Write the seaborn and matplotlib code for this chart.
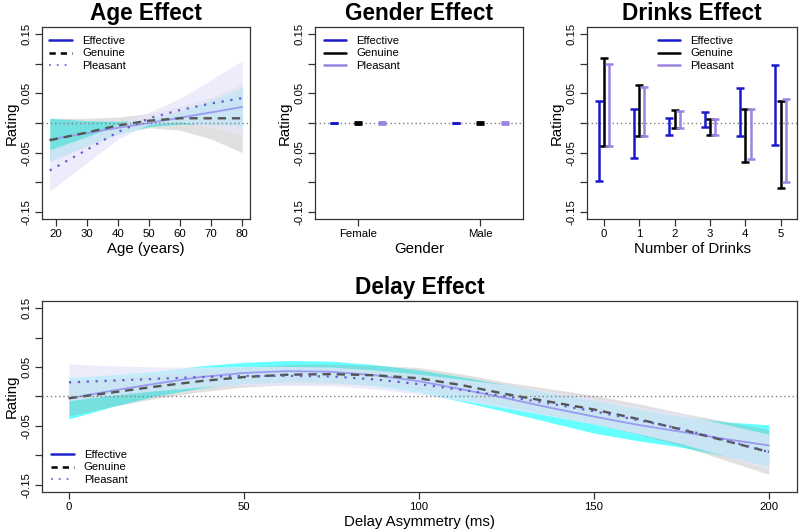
import numpy as np
import pandas as pd
import seaborn as sns
import matplotlib.pyplot as plt
from matplotlib.lines import Line2D

sns.set_style("ticks")
plt.rcParams['font.family'] = ['Liberation Sans', 'DejaVu Sans']
plt.rcParams['text.color'] = 'black'
plt.rcParams['axes.labelcolor'] = 'black'
plt.rcParams['xtick.labelcolor'] = 'black'
plt.rcParams['ytick.labelcolor'] = 'black'

# ---- datos ----
series = ['Effective', 'Genuine', 'Pleasant']

# Edad
age = [18, 30, 40, 50, 60, 70, 80]
age_eff = [-0.028, -0.017, -0.008, 0.000, 0.009, 0.018, 0.027]
age_eff_hw = [0.036, 0.021, 0.011, 0.006, 0.011, 0.021, 0.032]
age_gen = [-0.029, -0.016, -0.004, 0.004, 0.008, 0.008, 0.008]
age_gen_hw = [0.037, 0.024, 0.014, 0.012, 0.020, 0.035, 0.058]
age_ple = [-0.080, -0.045, -0.015, 0.008, 0.022, 0.033, 0.042]
age_ple_hw = [0.035, 0.022, 0.012, 0.010, 0.020, 0.040, 0.063]

# Genero
gender = ['Female', 'Male']
gen_lo = {'Effective': [-0.0006, -0.0006], 'Genuine': [-0.0015, -0.0015], 'Pleasant': [-0.0015, -0.0015]}
gen_hi = {'Effective': [0.0006, 0.0006], 'Genuine': [0.0015, 0.0015], 'Pleasant': [0.0015, 0.0015]}

# Bebidas
drinks = [0, 1, 2, 3, 4, 5]
drk_lo = {'Effective': [-0.098, -0.059, -0.020, -0.007, -0.022, -0.037],
          'Genuine': [-0.038, -0.022, -0.008, -0.021, -0.066, -0.110],
          'Pleasant': [-0.038, -0.022, -0.008, -0.020, -0.060, -0.100]}
drk_hi = {'Effective': [0.037, 0.023, 0.008, 0.019, 0.059, 0.098],
          'Genuine': [0.109, 0.065, 0.022, 0.007, 0.023, 0.038],
          'Pleasant': [0.099, 0.060, 0.020, 0.007, 0.023, 0.040]}

# Retraso
delay = [0, 12.5, 25, 37.5, 50, 62.5, 75, 87.5, 100, 112.5, 125, 137.5, 150, 162.5, 175, 187.5, 200]
del_eff = [-0.003, 0.010, 0.022, 0.033, 0.040, 0.043, 0.042, 0.036, 0.026, 0.012, -0.003,
           -0.019, -0.034, -0.048, -0.060, -0.072, -0.083]
del_eff_hw = [0.035, 0.027, 0.021, 0.019, 0.018, 0.018, 0.018, 0.018, 0.019, 0.021, 0.023,
              0.025, 0.028, 0.027, 0.026, 0.029, 0.035]
del_gen = [-0.003, 0.007, 0.017, 0.026, 0.033, 0.037, 0.038, 0.036, 0.031, 0.019, 0.004,
           -0.009, -0.022, -0.038, -0.056, -0.075, -0.094]
del_gen_hw = [0.030, 0.024, 0.020, 0.018, 0.017, 0.017, 0.017, 0.017, 0.018, 0.019, 0.020,
              0.022, 0.024, 0.026, 0.028, 0.033, 0.038]
del_ple = [0.024, 0.027, 0.030, 0.033, 0.035, 0.035, 0.034, 0.029, 0.021, 0.011, 0.000,
           -0.012, -0.025, -0.040, -0.055, -0.074, -0.094]
del_ple_hw = [0.031, 0.025, 0.020, 0.017, 0.016, 0.016, 0.016, 0.016, 0.017, 0.018, 0.020,
              0.021, 0.022, 0.023, 0.025, 0.027, 0.030]

# colores
c_bar = {'Effective': '#1a1acd', 'Genuine': 'black', 'Pleasant': '#9a84e0'}
c_band = {'Effective': ('#00ffff', 0.6), 'Genuine': ('#999999', 0.3), 'Pleasant': ('#e6e6fa', 0.75)}
c_line = {'Effective': ('#9a9af0', '-', 1.3), 'Genuine': ('#555555', (0, (3.5, 2.5)), 1.7),
          'Pleasant': ('#6a5acd', (0, (1, 3)), 1.6)}
box_col = '#333333'


def style_ax(ax, title, xlabel):
    ax.set_ylim(-0.162, 0.162)
    ax.set_yticks([-0.15, -0.10, -0.05, 0, 0.05, 0.10, 0.15])
    ax.set_yticklabels(['-0.15', '', '-0.05', '', '0.05', '', '0.15'])
    for t in ax.get_yticklabels():
        t.set_rotation(90)
        t.set_va('center')
    ax.tick_params(length=5, width=0.9, color=box_col, labelsize=8.2, pad=2.5)
    for s in ax.spines.values():
        s.set_visible(True)
        s.set_color(box_col)
        s.set_linewidth(0.9)
    ax.set_title(title, fontsize=16.3, fontweight='bold', pad=5)
    ax.set_xlabel(xlabel, fontsize=10.8, labelpad=2)
    ax.set_ylabel('Rating', fontsize=10.8, labelpad=2)
    ax.axhline(0, color='gray', ls=(0, (1, 2)), lw=1, zorder=5)


def curve_panel(ax, x, mids, hws):
    df = pd.DataFrame({'x': x})
    for name, m, hw in zip(series, mids, hws):
        m = np.array(m)
        hw = np.array(hw)
        col, a = c_band[name]
        ax.fill_between(x, m - hw, m + hw, color=col, alpha=a, lw=0)
    for name, m in zip(series, mids):
        df[name] = m
        col, ls, lw = c_line[name]
        sns.lineplot(data=df, x='x', y=name, ax=ax, color=col, linestyle=ls, lw=lw, legend=False)


curve_handles = [Line2D([], [], color='#2222cc', lw=1.8, ls='-'),
                 Line2D([], [], color='black', lw=1.8, ls=(0, (2.5, 2))),
                 Line2D([], [], color='#8080e0', lw=1.4, ls=(0, (1, 3)))]
bar_handles = [Line2D([], [], color=c_bar[n], lw=1.8) for n in series]
leg_kw = dict(frameon=False, fontsize=8.1, handlelength=2.0, handletextpad=0.9,
              labelspacing=0.25, borderpad=0, borderaxespad=0)

fig = plt.figure(figsize=(8, 5.32), dpi=100)
ax_age = fig.add_axes([0.0525, 0.5883, 0.26, 0.3609])
ax_gen = fig.add_axes([0.394, 0.5883, 0.26, 0.3609])
ax_drk = fig.add_axes([0.734, 0.5883, 0.2625, 0.3609])
ax_del = fig.add_axes([0.0525, 0.0752, 0.9435, 0.359])

# Edad
curve_panel(ax_age, age, [age_eff, age_gen, age_ple], [age_eff_hw, age_gen_hw, age_ple_hw])
ax_age.set_xlim(15.5, 82.5)
ax_age.set_xticks([20, 30, 40, 50, 60, 70, 80])
style_ax(ax_age, 'Age Effect', 'Age (years)')
ax_age.legend(curve_handles, series, loc='upper left', bbox_to_anchor=(0.035, 0.955), **leg_kw)

# Genero
offsets = {'Effective': -0.2, 'Genuine': 0.0, 'Pleasant': 0.2}
gpos = np.arange(1, len(gender) + 1)
for name in series:
    lo = np.array(gen_lo[name])
    hi = np.array(gen_hi[name])
    mid = (lo + hi) / 2
    ax_gen.errorbar(gpos + offsets[name], mid, yerr=[mid - lo, hi - mid], fmt='none',
                    ecolor=c_bar[name], elinewidth=2, capsize=3, capthick=2, zorder=6)
ax_gen.set_xlim(0.65, 2.35)
ax_gen.set_xticks(gpos)
ax_gen.set_xticklabels(gender)
style_ax(ax_gen, 'Gender Effect', 'Gender')
ax_gen.legend(bar_handles, series, loc='upper left', bbox_to_anchor=(0.04, 0.955), **leg_kw)

# Bebidas
offsets = {'Effective': -0.15, 'Genuine': 0.0, 'Pleasant': 0.15}
for name in series:
    lo = np.array(drk_lo[name])
    hi = np.array(drk_hi[name])
    mid = (lo + hi) / 2
    ax_drk.errorbar(np.array(drinks) + offsets[name], mid, yerr=[mid - lo, hi - mid], fmt='none',
                    ecolor=c_bar[name], elinewidth=1.8, capsize=3.2, capthick=1.8, zorder=6)
ax_drk.set_xlim(-0.47, 5.47)
ax_drk.set_xticks(drinks)
style_ax(ax_drk, 'Drinks Effect', 'Number of Drinks')
ax_drk.legend(bar_handles, series, loc='upper left', bbox_to_anchor=(0.335, 0.955), **leg_kw)

# Retraso
curve_panel(ax_del, delay, [del_eff, del_gen, del_ple], [del_eff_hw, del_gen_hw, del_ple_hw])
ax_del.set_xlim(-7.7, 208)
ax_del.set_xticks([0, 50, 100, 150, 200])
style_ax(ax_del, 'Delay Effect', 'Delay Asymmetry (ms)')
ax_del.legend(curve_handles, series, loc='lower left', bbox_to_anchor=(0.012, 0.035), **leg_kw)

fig.savefig('out.png', dpi=100)
